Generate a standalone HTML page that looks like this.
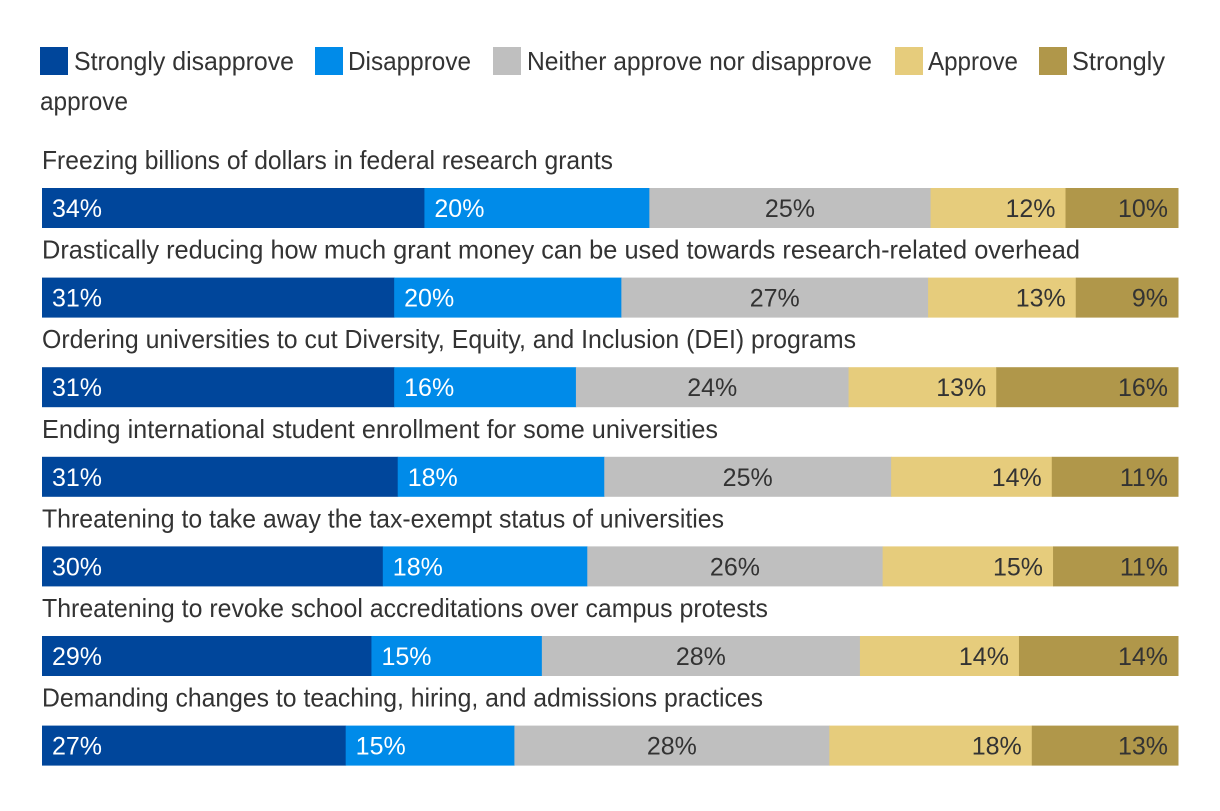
<!DOCTYPE html>
<html><head><meta charset="utf-8"><style>
body{margin:0;background:#fff;}
svg text{font-family:"Liberation Sans Narrow","Liberation Sans",sans-serif;fill:#333;}
</style></head><body>
<svg id="chart" width="1220" height="806" viewBox="0 0 1220 806" xmlns="http://www.w3.org/2000/svg">
<g>
<rect x="40" y="47" width="28" height="28" fill="#00469b"/>
<text x="74" y="70" font-size="26" textLength="220" lengthAdjust="spacingAndGlyphs">Strongly disapprove</text>
<rect x="315" y="47" width="28" height="28" fill="#008be9"/>
<text x="348" y="70" font-size="26" textLength="123" lengthAdjust="spacingAndGlyphs">Disapprove</text>
<rect x="493" y="47" width="28" height="28" fill="#bfbfbf"/>
<text x="527" y="70" font-size="26" textLength="345" lengthAdjust="spacingAndGlyphs">Neither approve nor disapprove</text>
<rect x="895" y="47" width="28" height="28" fill="#e6cc7c"/>
<text x="928" y="70" font-size="26" textLength="90" lengthAdjust="spacingAndGlyphs">Approve</text>
<rect x="1039" y="47" width="28" height="28" fill="#b0974a"/>
<text x="1072" y="70" font-size="26" textLength="93" lengthAdjust="spacingAndGlyphs">Strongly</text>
<text x="40" y="110" font-size="26" textLength="88" lengthAdjust="spacingAndGlyphs">approve</text>
</g>
<g id="bars"></g>
</svg>
<script>
const categories=["Freezing billions of dollars in federal research grants","Drastically reducing how much grant money can be used towards research-related overhead","Ordering universities to cut Diversity, Equity, and Inclusion (DEI) programs","Ending international student enrollment for some universities","Threatening to take away the tax-exempt status of universities","Threatening to revoke school accreditations over campus protests","Demanding changes to teaching, hiring, and admissions practices"];
const stronglyDisapprove=[34,31,31,31,30,29,27];
const disapprove=[20,20,16,18,18,15,15];
const neither=[25,27,24,25,26,28,28];
const approve=[12,13,13,14,15,14,18];
const stronglyApprove=[10,9,16,11,11,14,13];
const labelWidths=[571,1038,814,676,682,726,721];

const NS="http://www.w3.org/2000/svg";
const g=document.getElementById('bars');
const X0=42,W=1136,Y0=188,STEP=89.6,BH=40;
const series=[stronglyDisapprove,disapprove,neither,approve,stronglyApprove];
const names=['strongly-disapprove','disapprove','neither','approve','strongly-approve'];
const colors=['#00469b','#008be9','#bfbfbf','#e6cc7c','#b0974a'];
const txtColors=['#fff','#fff','#333','#333','#333'];
const aligns=['start','start','middle','end','end'];
function yPos(i){return Y0+i*STEP;}
categories.forEach((c,i)=>{
  const y=yPos(i);
  const t=document.createElementNS(NS,'text');
  
  
  t.setAttribute('x',X0);t.setAttribute('y',y-19);t.setAttribute('font-size','26');
  t.setAttribute('textLength',labelWidths[i]);t.setAttribute('lengthAdjust','spacingAndGlyphs');
  t.textContent=c;g.appendChild(t);
  const total=series.reduce((s,a)=>s+a[i],0);
  let x=X0;
  series.forEach((arr,k)=>{
    const w=arr[i]/total*W;
    const r=document.createElementNS(NS,'rect');
    
    
    r.setAttribute('x',x);r.setAttribute('y',y);r.setAttribute('width',w+0.5);r.setAttribute('height',BH);
    r.setAttribute('fill',colors[k]);g.appendChild(r);
    const v=document.createElementNS(NS,'text');
    
    
    const tx=aligns[k]==='start'?x+10:aligns[k]==='middle'?x+w/2:x+w-10;
    v.setAttribute('x',tx);v.setAttribute('y',y+29);v.setAttribute('font-size','25');
    v.setAttribute('text-anchor',aligns[k]);v.style.fill=txtColors[k];
    v.textContent=arr[i]+'%';g.appendChild(v);
    x+=w;
  });
});
</script>
</body></html>
